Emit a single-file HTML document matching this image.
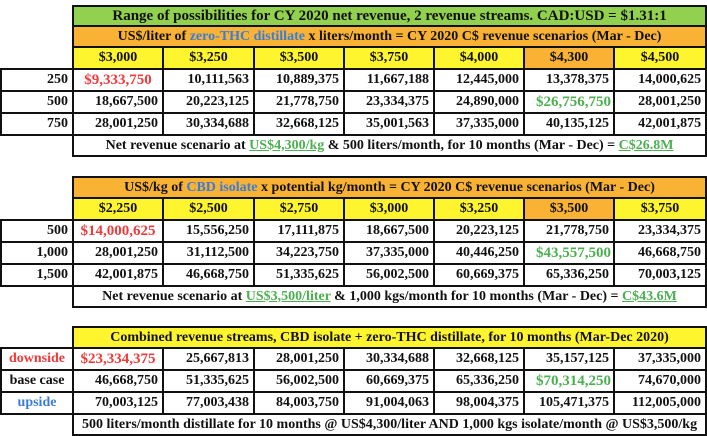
<!DOCTYPE html>
<html><head><meta charset="utf-8"><style>
body{margin:0;background:#fff;width:707px;height:436px;position:relative;overflow:hidden;font-family:"Liberation Serif",serif;font-weight:bold;color:#111}
table{position:absolute;left:0;border-collapse:collapse;table-layout:fixed;width:705px}
td{border:2px solid #111;padding:0 4px;font-size:14px;text-align:right;white-space:nowrap;overflow:hidden;line-height:16px}
td.e{border:none}
.g{background:#92D050;text-align:center;font-size:15px}
.o{background:#F9B233;text-align:center}
.y{background:#FFF52E;text-align:center}
.c{text-align:center}
.r{color:#F23A3A}
.gr{color:#4CB050}
.b{color:#3A7DD8}
u{color:#4CB050}
</style></head><body>
<table style="top:5px">
<colgroup><col style="width:72px"><col style="width:90px"><col style="width:91px"><col style="width:90px"><col style="width:90px"><col style="width:90px"><col style="width:90px"><col style="width:92px"></colgroup>
<tr style="height:20px"><td class="e"></td><td colspan="7" class="g">Range of possibilities for CY 2020 net revenue, 2 revenue streams. CAD:USD = $1.31:1</td></tr>
<tr style="height:21px"><td class="e"></td><td colspan="7" class="o">US$/liter of <span class="b">zero-THC distillate</span> x liters/month = CY 2020 C$ revenue scenarios (Mar - Dec)</td></tr>
<tr style="height:22px"><td class="e"></td><td class="y">$3,000</td><td class="y">$3,250</td><td class="y">$3,500</td><td class="y">$3,750</td><td class="y">$4,000</td><td class="o">$4,300</td><td class="y">$4,500</td></tr>
<tr style="height:22px"><td>250</td><td class="r c" style="font-size:15px">$9,333,750</td><td>10,111,563</td><td>10,889,375</td><td>11,667,188</td><td>12,445,000</td><td>13,378,375</td><td>14,000,625</td></tr>
<tr style="height:22px"><td>500</td><td>18,667,500</td><td>20,223,125</td><td>21,778,750</td><td>23,334,375</td><td>24,890,000</td><td class="gr" style="font-size:15px;padding:0 2px">$26,756,750</td><td>28,001,250</td></tr>
<tr style="height:22px"><td>750</td><td>28,001,250</td><td>30,334,688</td><td>32,668,125</td><td>35,001,563</td><td>37,335,000</td><td>40,135,125</td><td>42,001,875</td></tr>
<tr style="height:21px"><td class="e"></td><td colspan="7" class="c">Net revenue scenario at <u>US$4,300/kg</u> &amp; 500 liters/month, for 10 months (Mar - Dec) = <u>C$26.8M</u></td></tr>
</table>

<table style="top:176px">
<colgroup><col style="width:72px"><col style="width:90px"><col style="width:91px"><col style="width:90px"><col style="width:90px"><col style="width:90px"><col style="width:90px"><col style="width:92px"></colgroup>
<tr style="height:21px"><td class="e"></td><td colspan="7" class="o">US$/kg of <span class="b">CBD isolate</span> x potential kg/month = CY 2020 C$ revenue scenarios (Mar - Dec)</td></tr>
<tr style="height:22px"><td class="e"></td><td class="y">$2,250</td><td class="y">$2,500</td><td class="y">$2,750</td><td class="y">$3,000</td><td class="y">$3,250</td><td class="o">$3,500</td><td class="y">$3,750</td></tr>
<tr style="height:22px"><td>500</td><td class="r c" style="font-size:15px;padding:0">$14,000,625</td><td>15,556,250</td><td>17,111,875</td><td>18,667,500</td><td>20,223,125</td><td>21,778,750</td><td>23,334,375</td></tr>
<tr style="height:22px"><td>1,000</td><td>28,001,250</td><td>31,112,500</td><td>34,223,750</td><td>37,335,000</td><td>40,446,250</td><td class="gr" style="font-size:15px;padding:0 2px">$43,557,500</td><td>46,668,750</td></tr>
<tr style="height:22px"><td>1,500</td><td>42,001,875</td><td>46,668,750</td><td>51,335,625</td><td>56,002,500</td><td>60,669,375</td><td>65,336,250</td><td>70,003,125</td></tr>
<tr style="height:21px"><td class="e"></td><td colspan="7" class="c">Net revenue scenario at <u>US$3,500/liter</u> &amp; 1,000 kgs/month for 10 months (Mar - Dec) = <u>C$43.6M</u></td></tr>
</table>

<table style="top:326px">
<colgroup><col style="width:72px"><col style="width:90px"><col style="width:91px"><col style="width:90px"><col style="width:90px"><col style="width:90px"><col style="width:90px"><col style="width:92px"></colgroup>
<tr style="height:21px"><td class="e"></td><td colspan="7" class="y">Combined revenue streams, CBD isolate + zero-THC distillate, for 10 months (Mar-Dec 2020)</td></tr>
<tr style="height:22px"><td class="r c">downside</td><td class="r c" style="font-size:15px;padding:0">$23,334,375</td><td>25,667,813</td><td>28,001,250</td><td>30,334,688</td><td>32,668,125</td><td>35,157,125</td><td>37,335,000</td></tr>
<tr style="height:22px"><td class="c">base case</td><td>46,668,750</td><td>51,335,625</td><td>56,002,500</td><td>60,669,375</td><td>65,336,250</td><td class="gr" style="font-size:15px;padding:0 2px">$70,314,250</td><td>74,670,000</td></tr>
<tr style="height:22px"><td class="b c">upside</td><td>70,003,125</td><td>77,003,438</td><td>84,003,750</td><td>91,004,063</td><td>98,004,375</td><td>105,471,375</td><td>112,005,000</td></tr>
<tr style="height:21px"><td class="e"></td><td colspan="7" class="c">500 liters/month distillate for 10 months @ US$4,300/liter AND 1,000 kgs isolate/month @ US$3,500/kg</td></tr>
</table>
</body></html>
